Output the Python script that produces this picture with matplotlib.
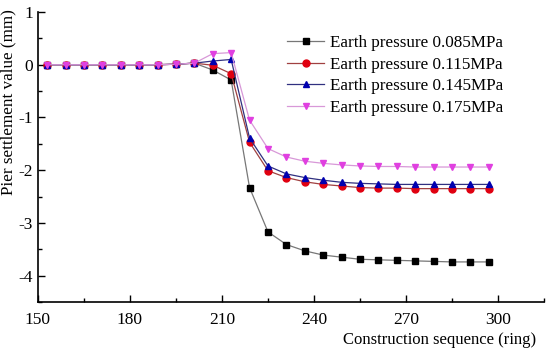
import matplotlib
matplotlib.use("Agg")
import matplotlib.pyplot as plt
from matplotlib.ticker import MultipleLocator

rings = list(range(153, 298, 6))

s085 = [0, 0, 0, 0, 0, 0, 0, 0.01, 0.03, -0.10, -0.29, -2.33, -3.17, -3.41, -3.53,
        -3.61, -3.65, -3.69, -3.70, -3.71, -3.72, -3.73, -3.74, -3.74, -3.74]
s115 = [0, 0, 0, 0, 0, 0, 0, 0.01, 0.03, -0.01, -0.17, -1.47, -2.01, -2.14, -2.22,
        -2.27, -2.30, -2.33, -2.34, -2.34, -2.35, -2.35, -2.35, -2.35, -2.35]
s145 = [0, 0, 0, 0, 0, 0, 0, 0.01, 0.03, 0.07, 0.10, -1.39, -1.92, -2.07, -2.14,
        -2.19, -2.23, -2.25, -2.26, -2.27, -2.27, -2.27, -2.27, -2.27, -2.27]
s175 = [0, 0, 0, 0, 0, 0, 0, 0.01, 0.03, 0.21, 0.23, -1.05, -1.59, -1.75, -1.83,
        -1.87, -1.90, -1.92, -1.93, -1.93, -1.94, -1.94, -1.94, -1.94, -1.94]

labels = ["Earth pressure 0.085MPa", "Earth pressure 0.115MPa",
          "Earth pressure 0.145MPa", "Earth pressure 0.175MPa"]

plt.rcParams['font.family'] = ['Liberation Serif', 'DejaVu Serif']
plt.rcParams['axes.unicode_minus'] = False

fig = plt.figure(figsize=(5.5, 3.53), dpi=100)
ax = fig.add_axes([0.069, 0.1445, 0.92, 0.8215])

series = [
    (s085, 's', '#000000', '#777777'),
    (s115, 'o', '#e00010', '#a04040'),
    (s145, '^', '#0000b0', '#303080'),
    (s175, 'v', '#e040e0', '#d898d8'),
]
for (vals, mk, mc, lc), lab in zip(series, labels):
    ax.plot(rings, vals, color=lc, lw=0.9, marker=mk, markersize=5,
            markerfacecolor=mc, markeredgecolor=mc, label=lab)

ax.set_xlim(150, 315)
ax.set_ylim(-4.5, 1)
ax.xaxis.set_major_locator(MultipleLocator(30))
ax.xaxis.set_minor_locator(MultipleLocator(15))
ax.yaxis.set_major_locator(MultipleLocator(1))
ax.yaxis.set_minor_locator(MultipleLocator(0.5))
ax.set_xticks([150, 180, 210, 240, 270, 300])
ax.tick_params(which='both', direction='in', labelsize=12.5, width=1)
ax.tick_params(axis='x', which='major', pad=7)
ax.tick_params(which='major', length=5)
ax.tick_params(which='minor', length=3)
ax.spines['top'].set_visible(False)
ax.spines['right'].set_visible(False)
for sp in ['left', 'bottom']:
    ax.spines[sp].set_linewidth(1.2)

ax.set_ylabel("Pier settlement value (mm)", fontsize=12.3)
ax.yaxis.set_label_coords(-0.043, 0.69)
ax.set_xlabel("Construction sequence (ring)", fontsize=12)
ax.xaxis.set_label_coords(0.985, -0.105)
ax.xaxis.label.set_horizontalalignment('right')

ax.legend(loc='upper left', bbox_to_anchor=(0.492, 0.92), frameon=False,
          borderaxespad=0, borderpad=0,
          fontsize=12.3, handlelength=2.2, labelspacing=0.33, handletextpad=0.3)

fig.savefig("out.png", dpi=100)
